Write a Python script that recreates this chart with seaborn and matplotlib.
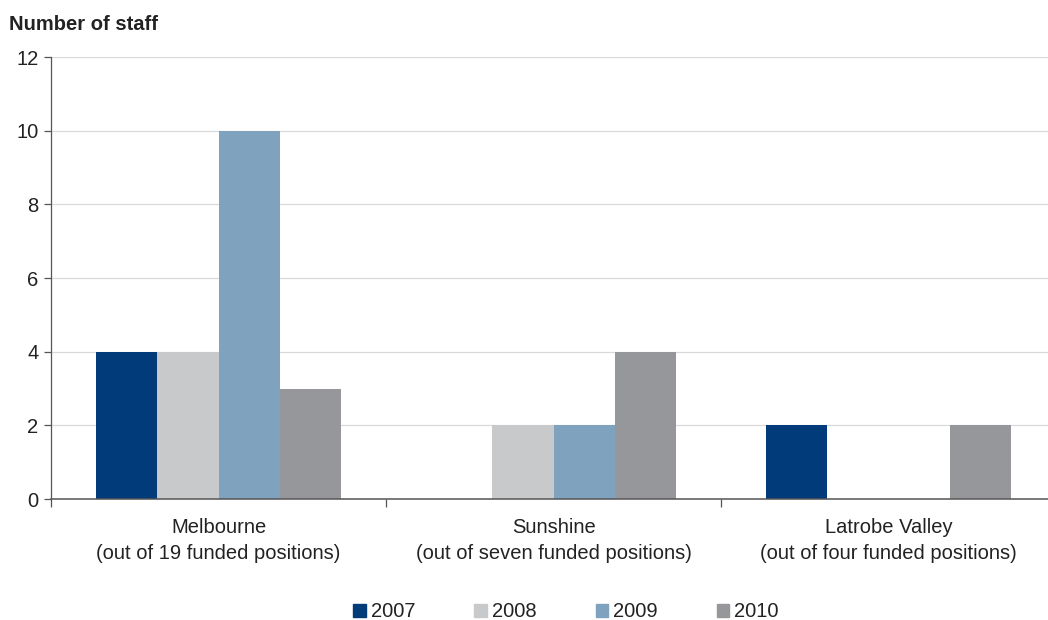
import matplotlib
matplotlib.use("Agg")
import matplotlib.pyplot as plt
from matplotlib.ticker import FixedLocator
import seaborn as sns
import pandas as pd

categories = ["Melbourne\n(out of 19 funded positions)",
              "Sunshine\n(out of seven funded positions)",
              "Latrobe Valley\n(out of four funded positions)"]
years = ["2007", "2008", "2009", "2010"]
staff_2007 = [4, 0, 2]
staff_2008 = [4, 2, 0]
staff_2009 = [10, 2, 0]
staff_2010 = [3, 4, 2]
colors = ["#023b7a", "#c8c9cb", "#7fa2bf", "#96979b"]

rows = []
for year, vals in zip(years, [staff_2007, staff_2008, staff_2009, staff_2010]):
    for cat, v in zip(categories, vals):
        rows.append({"Office": cat, "Year": year, "Staff": v})
df = pd.DataFrame(rows)

sns.set_theme(style="white")
plt.rcParams["font.family"] = ["Liberation Sans", "DejaVu Sans"]

fig = plt.figure(figsize=(10.48, 6.2), dpi=100)
ax = fig.add_axes([0.0487, 0.195, 0.959, 0.713])

sns.barplot(data=df, x="Office", y="Staff", hue="Year", palette=colors,
            width=0.73, gap=0, saturation=1, ax=ax, legend=False,
            linewidth=0, errorbar=None)

ax.set_ylim(0, 12)
ax.set_xlim(-0.5, 2.5)
ax.set_yticks(range(0, 13, 2))
ax.yaxis.grid(True, color="#d9d9d9", linewidth=0.9)
ax.set_axisbelow(True)
ax.set_xlabel("")
ax.set_ylabel("")

for side in ["top", "right"]:
    ax.spines[side].set_visible(False)
ax.spines["left"].set_color("#555555")
ax.spines["bottom"].set_color("#555555")
ax.spines["left"].set_linewidth(0.9)
ax.spines["bottom"].set_linewidth(1.1)

ax.tick_params(axis="y", which="major", left=True, length=5, width=0.9,
               color="#555555", labelsize=14.5, labelcolor="#222222", pad=4)
ax.tick_params(axis="x", which="major", bottom=False, labelsize=14.5,
               labelcolor="#222222", pad=7.5)
ax.xaxis.set_minor_locator(FixedLocator([-0.5, 0.5, 1.5, 2.5]))
ax.tick_params(axis="x", which="minor", bottom=True, length=6, width=0.9,
               color="#555555")
for lbl in ax.get_xticklabels():
    lbl.set_linespacing(1.45)

fig.text(0.009, 0.961, "Number of staff", fontsize=14.5, fontweight="bold",
         color="#222222", ha="left", va="center")

handles = [plt.Rectangle((0, 0), 1, 1, color=c) for c in colors]
fig.legend(handles, years, loc="center", bbox_to_anchor=(0.540, 0.013),
           ncol=4, frameon=False, fontsize=14.5, handlelength=0.6,
           handleheight=0.6, handletextpad=0.25, columnspacing=2.95,
           labelcolor="#222222")

fig.savefig("out.png", dpi=100)
